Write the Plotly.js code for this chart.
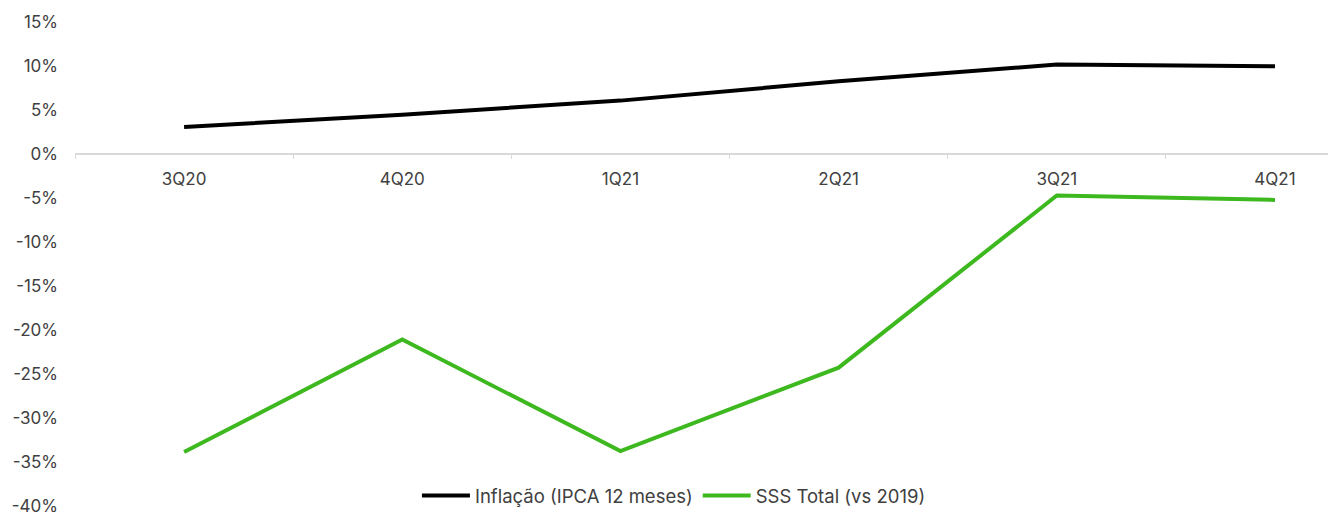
<!DOCTYPE html>
<html>
<head>
<meta charset="utf-8">
<script src="https://cdn.plot.ly/plotly-3.0.1.min.js"></script>
<style>
  html, body { margin: 0; padding: 0; background: #ffffff; }
  #chart { width: 1328px; height: 515px; }
</style>
</head>
<body>
<div id="chart"></div>
<script>
// Quarters on the horizontal axis
const quarters = ['3Q20', '4Q20', '1Q21', '2Q21', '3Q21', '4Q21'];

// Inflation, IPCA accumulated 12 months (%)
const inflacao = [3.1, 4.5, 6.1, 8.3, 10.2, 10.0];

// Same-store sales, total vs 2019 (%)
const sssTotal = [-33.9, -21.1, -33.8, -24.3, -4.7, -5.2];

const yTickVals = [15, 10, 5, 0, -5, -10, -15, -20, -25, -30, -35, -40];
const yTickText = yTickVals.map(v => v + '%');

const FONT = 'Inter, "Open Sans", sans-serif';
const TEXT = '#404040';

const Y_MIN = -40.05;
const Y_MAX = 15.05;

const MARGIN = { l: 75, r: 0, t: 22, b: 9 };
const PLOT_H = 515 - MARGIN.t - MARGIN.b;

const traces = [
  {
    x: quarters, y: inflacao, type: 'scatter', mode: 'lines',
    name: 'Inflação (IPCA 12 meses)',
    line: { color: '#000000', width: 4 },
    hoverinfo: 'skip'
  },
  {
    x: quarters, y: sssTotal, type: 'scatter', mode: 'lines',
    name: 'SSS Total (vs 2019)',
    line: { color: '#3db91f', width: 4 },
    hoverinfo: 'skip'
  }
];

const layout = {
  width: 1328, height: 515,
  margin: Object.assign({ autoexpand: false }, MARGIN),
  paper_bgcolor: '#ffffff',
  plot_bgcolor: '#ffffff',
  font: { family: FONT, size: 16, color: TEXT },
  showlegend: true,
  legend: {
    orientation: 'h',
    x: 0.478, xanchor: 'center',
    // legend box sits on the bottom edge of the page
    y: -MARGIN.b / PLOT_H, yanchor: 'bottom',
    xref: 'paper', yref: 'paper',
    font: { family: FONT, size: 18.5, color: TEXT },
    itemwidth: 48,
    bgcolor: 'rgba(0,0,0,0)',
    traceorder: 'normal'
  },
  xaxis: {
    type: 'category',
    range: [-0.5, 5.243],
    anchor: 'free',
    position: (0 - Y_MIN) / (Y_MAX - Y_MIN),
    showline: true,
    linecolor: '#d9d9d9',
    linewidth: 2,
    ticks: 'outside',
    tickson: 'boundaries',
    ticklen: 4,
    tickwidth: 1,
    tickcolor: '#d9d9d9',
    showgrid: false,
    zeroline: false,
    tickfont: { family: FONT, size: 17, color: TEXT },
    ticklabelstandoff: 9,
    ticklabeloverflow: 'allow',
    fixedrange: true
  },
  yaxis: {
    range: [Y_MIN, Y_MAX],
    domain: [0, 1],
    tickvals: yTickVals,
    ticktext: yTickText,
    showgrid: false,
    zeroline: false,
    showline: false,
    ticks: '',
    ticklabelstandoff: 16,
    ticklabeloverflow: 'allow',
    tickfont: { family: FONT, size: 17, color: TEXT },
    fixedrange: true
  }
};

Plotly.newPlot('chart', traces, layout, { displayModeBar: false, staticPlot: true });
</script>
</body>
</html>
